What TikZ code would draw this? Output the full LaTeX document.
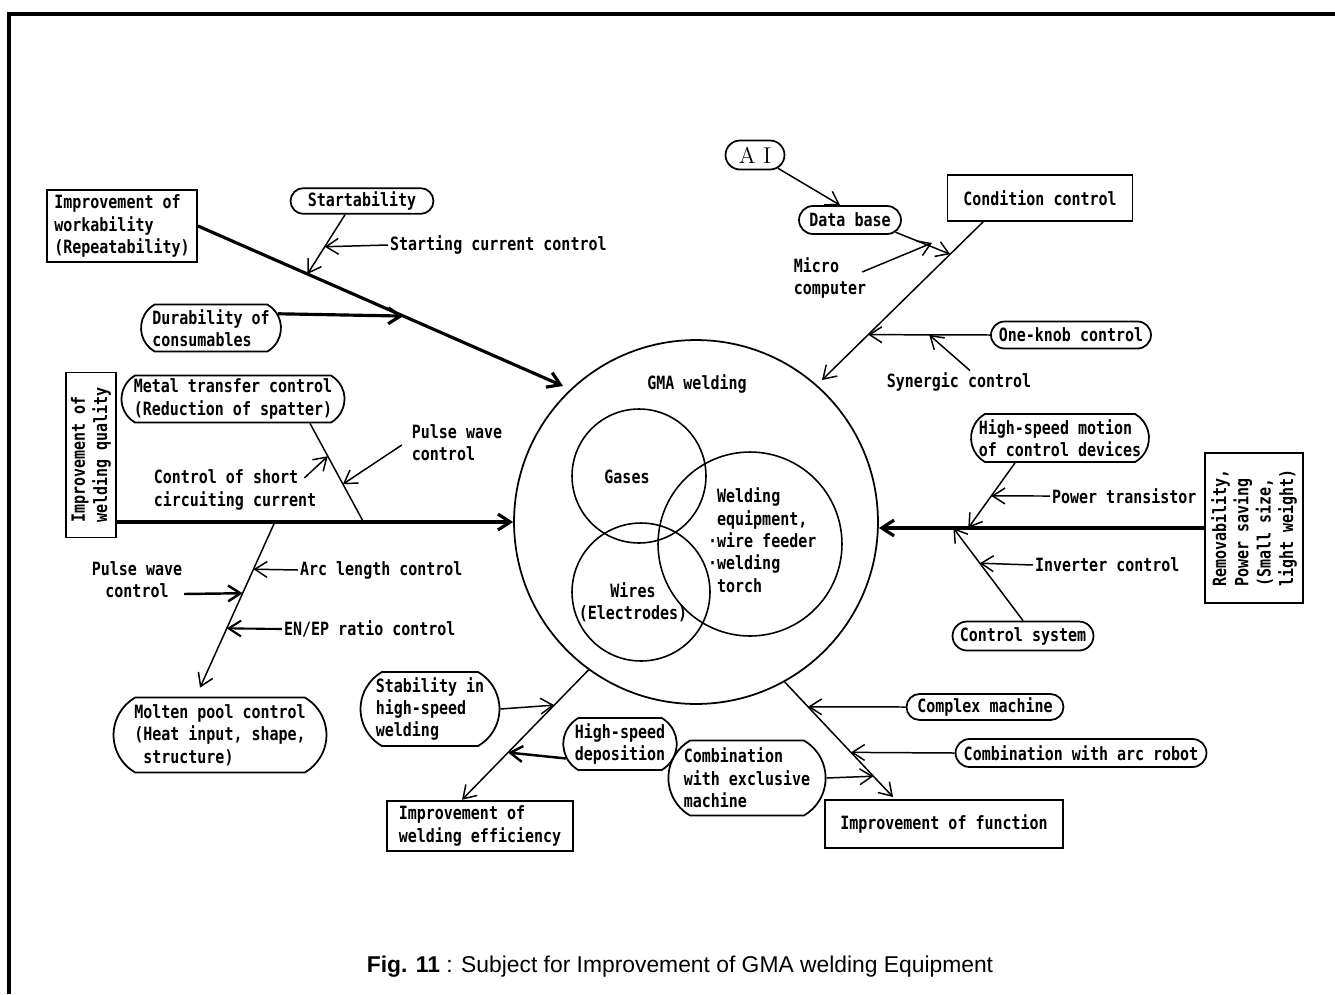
\documentclass[tikz,border=0pt]{standalone}
\usepackage{fontspec}
\newfontfamily\scanfont[FakeStretch=0.82]{DejaVu Sans Mono}
\newfontfamily\capfont{Liberation Sans}
\usetikzlibrary{arrows.meta,calc,shapes.misc}

\begin{document}
\begin{tikzpicture}[x=0.02cm,y=-0.02cm,>={Straight Barb[length=7pt,width=9pt]},
    every node/.style={font=\scanfont\bfseries\fontsize{10.4}{12.7}\selectfont,inner sep=1pt,align=left},
    sq box/.style={draw,line width=1.1pt,rectangle,inner sep=3pt},
    pill/.style={draw,line width=1pt,rounded rectangle,inner sep=2pt},
    flat pill/.style={pill,rounded rectangle arc length=120},
    ring/.style={circle,draw,line width=0.9pt},
    thin arrow/.style={->,line width=0.85pt},
    heavy/.style={->,line width=1.8pt}]
\useasboundingbox (0,0) rectangle (1335,994);
\draw[line width=1.8pt] (9,994) -- (9,14) -- (1335,14);

\node[ring,line width=1pt,minimum size=7.28cm] (gma) at (696,522) {};
\node[ring,minimum size=2.68cm] (gas) at (639,476) {};
\node[ring,minimum size=2.76cm] (wire) at (641,592) {};
\node[ring,minimum size=3.68cm] (equip) at (750,544) {};
\node (gmal) at (697,384) {GMA welding};
\node (gasl) at (627,477) {Gases};
\node[align=center] (wirel) at (633,602) {Wires\\(Electrodes)};
\node[anchor=north west] (equipl) at (706,486) {\phantom{·}Welding\\\phantom{·}equipment,\\·wire feeder\\·welding\\\phantom{·}torch};

\node[sq box,minimum width=3cm,minimum height=1.32cm] (work) at (122,226) {Improvement of\\workability\\(Repeatability)};
\node[pill,minimum width=3cm,minimum height=0.46cm] (start) at (362,201) {Startability};
\node[anchor=west] (scc) at (388,245) {Starting current control};
\node[flat pill,minimum width=2.94cm,minimum height=0.94cm] (dur) at (211,328) {Durability of\\consumables};
\node[sq box,rotate=90,minimum width=3.3cm,minimum height=0.84cm] (qual) at (91,455) {Improvement of\\welding quality};
\node[flat pill,minimum width=4.46cm,minimum height=0.9cm] (metal) at (233,399) {Metal transfer control\\(Reduction of spatter)};
\node (short) at (235,490) {Control of short\\circuiting current};
\node (pulsea) at (457,443) {Pulse wave\\control};
\node[flat pill,minimum width=4.4cm,minimum height=1.5cm] (pool) at (220,735) {Molten pool control\\(Heat input, shape,\\\phantom{(}structure)};
\node[align=center] (pulseb) at (137,580) {Pulse wave\\control};
\node[anchor=west] (arc) at (298,570) {Arc length control};
\node[anchor=west] (enep) at (282,629) {EN/EP ratio control};

\node[flat pill,minimum width=2.92cm,minimum height=1.48cm] (stab) at (430,709) {Stability in\\high-speed\\welding};
\node[flat pill,minimum width=2.14cm,minimum height=1.04cm] (dep) at (620,744) {High-speed\\deposition};
\node[sq box,minimum width=3.72cm,minimum height=0.96cm] (eff) at (480,826) {Improvement of\\welding efficiency};
\node[flat pill,minimum width=2.9cm,minimum height=1.5cm] (excl) at (747,778) {Combination\\with exclusive\\machine};
\node[pill,minimum width=3.28cm,minimum height=0.52cm] (cmplx) at (985,707) {Complex machine};
\node[pill,minimum width=5.16cm,minimum height=0.56cm] (robot) at (1081,753) {Combination with arc robot};
\node[sq box,minimum width=4.76cm,minimum height=0.96cm] (func) at (944,824) {Improvement of function};

\node[pill,font=\rmfamily\fontsize{13}{15}\selectfont,minimum width=1.32cm,minimum height=0.58cm] (ai) at (755,155) {A I};
\node[pill,minimum width=2.18cm,minimum height=0.56cm] (db) at (850,220) {Data base};
\node[sq box,minimum width=3.7cm,minimum height=0.92cm] (cond) at (1040,198) {Condition control};
\node (micro) at (830,278) {Micro\\computer};
\node[pill,minimum width=3.34cm,minimum height=0.54cm] (knob) at (1071,335) {One-knob control};
\node (syn) at (959,382) {Synergic control};

\node[sq box,rotate=90,minimum width=3cm,minimum height=1.96cm] (remov) at (1254,528) {Removability,\\Power saving\\(Small size,\\light weight)};
\node[flat pill,minimum width=3.7cm,minimum height=0.96cm] (motion) at (1060,438) {High-speed motion\\of control devices};
\node[anchor=west] (ptr) at (1050,496) {Power transistor};
\node[pill,minimum width=2.96cm,minimum height=0.58cm] (csys) at (1023,636) {Control system};
\node[anchor=west] (inv) at (1033,565) {Inverter control};

\node[font=\capfont\fontsize{13}{15}\selectfont] (cap) at (680,967) {\textbf{Fig. 11} : Subject for Improvement of GMA welding Equipment};

\coordinate (work-end) at (563,386);
\coordinate (start-b) at ([xshift=-0.34cm]start.south);
\coordinate (start-j) at ($(work.east)!0.3!(work-end)$);
\coordinate (dur-j) at ($(work.east)!0.563!(work-end)$);
\coordinate (qual-b) at (qual.south |- gma.west);
\coordinate (metal-b) at ([xshift=1.54cm]metal.south);
\coordinate (metal-j) at ($(qual-b)!0.622!(gma.west)$);
\coordinate (pool-j) at ($(qual-b)!0.398!(gma.west)$);
\coordinate (pool-tip) at ([xshift=-0.4cm,yshift=0.18cm]pool.north);
\coordinate (eff-tip) at ([xshift=-0.36cm]eff.north);
\coordinate (func-tip) at ([xshift=-1.02cm,yshift=0.04cm]func.north);
\coordinate (cond-b) at ([xshift=-1.14cm]cond.south);
\coordinate (cond-tip) at (822,380);
\coordinate (micro-tip) at (932,243);
\coordinate (knob-tip) at ($(cond-b)!0.713!(cond-tip)$);
\coordinate (remov-e) at (gma.east |- remov.north);
\coordinate (motion-b) at ([xshift=-0.9cm]motion.south);
\coordinate (motion-j) at ($(remov-e)!0.275!(remov.north)$);
\coordinate (csys-j) at ($(remov-e)!0.229!(remov.north)$);

\draw[heavy] (work.east) -- (work-end);
\draw[thin arrow] (start-b) -- (start-j);
\draw[thin arrow] (scc.west) -- ($(start-b)!0.54!(start-j)$);
\draw[heavy] (dur.12) -- (dur-j);
\draw[heavy] (qual-b) -- (gma.west);
\draw[line width=0.85pt] (metal-b) -- (metal-j);
\draw[thin arrow] ([xshift=-0.28cm,yshift=0.24cm]short.east) -- ($(metal-b)!0.333!(metal-j)$);
\draw[thin arrow] ([xshift=-0.16cm,yshift=-0.04cm]pulsea.west) -- ($(metal-b)!0.616!(metal-j)$);
\draw[thin arrow] (pool-j) -- (pool-tip);
\draw[thin arrow] (arc.west) -- ($(pool-j)!0.285!(pool-tip)$);
\draw[heavy,line width=1.4pt] ([yshift=-0.28cm]pulseb.east) -- ($(pool-j)!0.43!(pool-tip)$);
\draw[thin arrow,line width=1.2pt] (enep.west) -- ($(pool-j)!0.642!(pool-tip)$);

\draw[thin arrow] (gma.234) -- (eff-tip);
\draw[thin arrow] (stab.east) -- ($(gma.234)!0.271!(eff-tip)$);
\draw[heavy,line width=1.4pt] (dep.195) -- ($(gma.234)!0.636!(eff-tip)$);
\draw[thin arrow] (gma.299) -- (func-tip);
\draw[thin arrow] (cmplx.west) -- ($(gma.299)!0.216!(func-tip)$);
\draw[thin arrow] (robot.west) -- ($(gma.299)!0.612!(func-tip)$);
\draw[thin arrow] (excl.east) -- ($(gma.299)!0.819!(func-tip)$);

\draw[thin arrow] (ai.-30) -- ([xshift=-0.2cm]db.north);
\draw[thin arrow] (cond-b) -- (cond-tip);
\draw[thin arrow] (db.-15) -- ($(cond-b)!0.204!(cond-tip)$);
\draw[thin arrow] ([xshift=-0.12cm,yshift=0.12cm]micro.east) -- (micro-tip);
\draw[thin arrow] (knob.west) -- (knob-tip);
\draw[thin arrow] ([xshift=0.22cm]syn.north) -- ($(knob.west)!0.5!(knob-tip)$);

\draw[heavy] (remov.north) -- (remov-e);
\draw[thin arrow] (motion-b) -- (motion-j);
\draw[thin arrow] (ptr.west) -- ($(motion-b)!0.508!(motion-j)$);
\draw[thin arrow] (csys.north) -- (csys-j);
\draw[thin arrow] (inv.west) -- ($(csys.north)!0.62!(csys-j)$);
\end{tikzpicture}
\end{document}
